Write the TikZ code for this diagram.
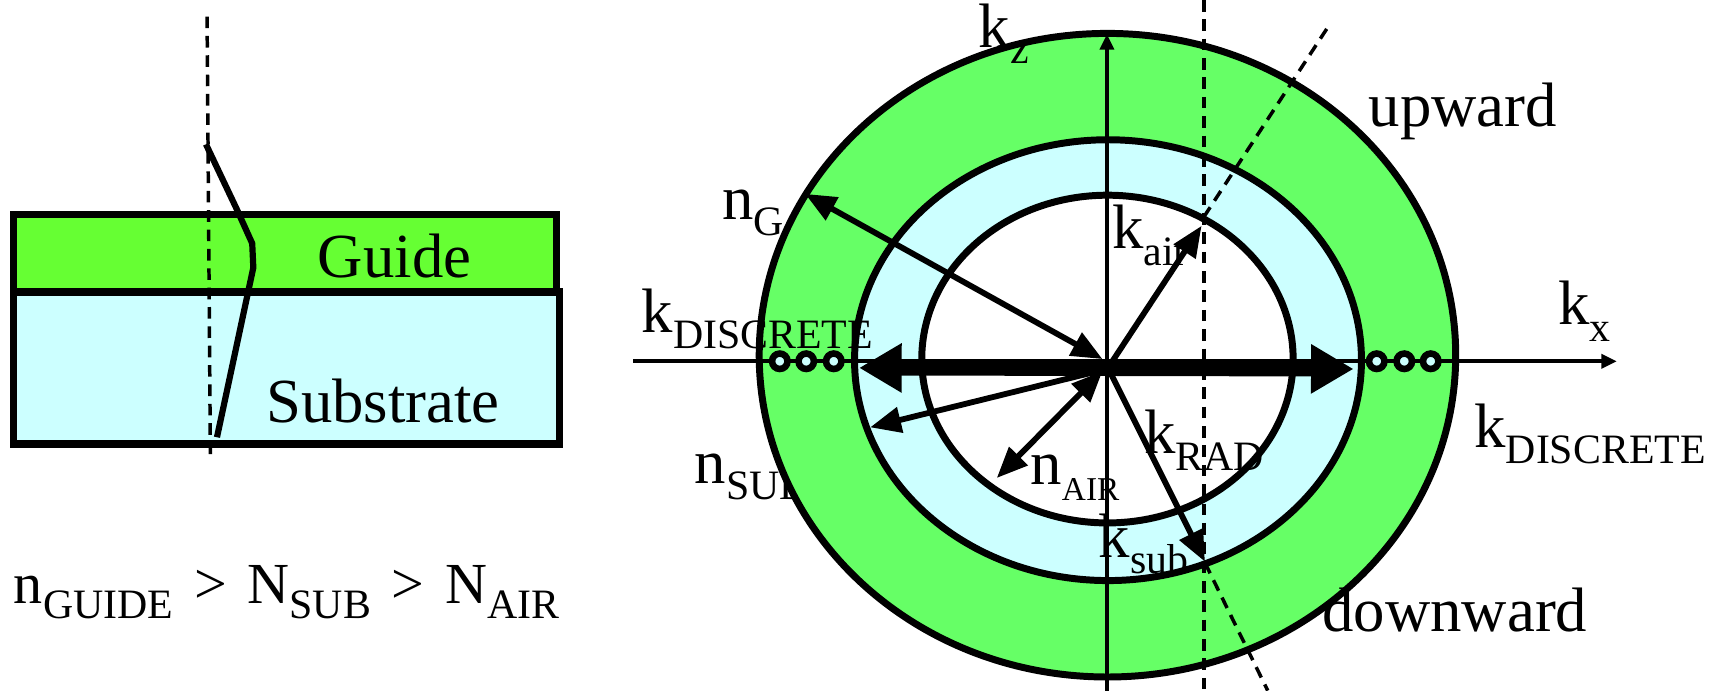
\documentclass[tikz,border=0pt]{standalone}
\usepackage{fontspec}
\setmainfont{Liberation Serif}
\usetikzlibrary{arrows.meta}

\definecolor{guidegreen}{HTML}{66FF33}
\definecolor{ringgreen}{HTML}{66FF66}
\definecolor{subcyan}{HTML}{CCFFFF}

\newcommand{\ksub}[3][10.8]{#2\raisebox{-0.26em}{\fontsize{#1}{12}\selectfont #3}}

\begin{document}
\begin{tikzpicture}[x=0.01cm, y=-0.01cm,
    every node/.style={inner sep=0pt, anchor=base west, font=\fontsize{16.2}{19}\selectfont},
    layer/.style={draw, line width=1.9pt},
    ring/.style={line width=1.8pt},
    axis/.style={line width=0.95pt, -{Triangle[length=4pt, width=3.6pt]}},
    guideline/.style={line width=0.9pt, dash pattern=on 3pt off 2pt},
    vec/.style={line width=1.5pt, -{Triangle[length=8pt, width=6.5pt]}},
    dvec/.style={line width=1.5pt, {Triangle[length=8pt, width=6.5pt]}-{Triangle[length=8pt, width=6.5pt]}},
    bigvec/.style={line width=3.9pt, {Triangle[length=11pt, width=12pt]}-{Triangle[length=11pt, width=12pt]}},
    mode/.style={circle, draw, line width=1.7pt, fill=subcyan, minimum size=0.14cm, anchor=center}]
    \useasboundingbox (0,0) rectangle (1568,627);

    % left: guide on substrate
    \draw[layer, fill=subcyan] (12,265) rectangle (508,403);
    \draw[layer, fill=guidegreen] (12,195) rectangle (505,265);
    \draw[guideline] (188,15) -- (191,413);
    \draw[line width=1.6pt, line join=round] (187,131) -- (215,190) -- (229,221) -- (230,243) -- (197,397);
    \node (guide) at (288,252) {Guide};
    \node (substrate) at (241,384) {Substrate};
    \node (order) at (12,548) {\fontsize{15}{18}\selectfont \ksub{n}{GUIDE}\hspace{0.36em}>\hspace{0.36em}\ksub{N}{SUB}\hspace{0.36em}>\hspace{0.36em}\ksub{N}{AIR}};

    % right: index surfaces
    \node (nsub) at (630,439) {\ksub{n}{SUB}};
    \fill[ringgreen] (1005.5,322.5) ellipse [x radius=3.16cm, y radius=2.92cm];
    \fill[subcyan] (1006,327) ellipse [x radius=2.3cm, y radius=2cm];
    \fill[white] (1005.5,326) ellipse [x radius=1.685cm, y radius=1.487cm];
    \draw[ring] (1005.5,322.5) ellipse [x radius=3.16cm, y radius=2.92cm];
    \draw[ring] (1006,327) ellipse [x radius=2.3cm, y radius=2cm];
    \draw[ring] (1005.5,326) ellipse [x radius=1.685cm, y radius=1.487cm];

    \coordinate (kxstart) at (575,328);
    \coordinate (kxend) at (1468,328);
    \coordinate (kzstart) at (1005,627);
    \coordinate (kzend) at (1005,31);
    \draw[axis] (kxstart) -- (kxend);
    \draw[axis] (kzstart) -- (kzend);

    \coordinate (cutup) at (1093,0);
    \coordinate (cutdown) at (1093,627);
    \coordinate (airhit) at (1093,197);
    \coordinate (subhit) at (1094,511);
    \coordinate (upend) at (1208,21);
    \coordinate (downend) at (1151,627);
    \draw[guideline] (cutup) -- (cutdown);
    \draw[guideline] (airhit) -- (upend);
    \draw[guideline] (subhit) -- (downend);

    \coordinate (gtip) at (731,176);
    \coordinate (gfoot) at (1001,326);
    \coordinate (subtip) at (790,388);
    \coordinate (subfoot) at (1001,336);
    \coordinate (airtip) at (905,434);
    \coordinate (airfoot) at (1001,337);
    \coordinate (kairfoot) at (1006,334);
    \coordinate (kairtip) at (1091,205);
    \coordinate (kradfoot) at (1008,338);
    \coordinate (kradtip) at (1094,510);
    \coordinate (discleft) at (780,334);
    \coordinate (discright) at (1229,335);
    \draw[dvec] (gfoot) -- (gtip);
    \draw[vec] (subfoot) -- (subtip);
    \draw[dvec] (airfoot) -- (airtip);
    \draw[vec] (kairfoot) -- (kairtip);
    \draw[vec] (kradfoot) -- (kradtip);
    \draw[bigvec] (discleft) -- (discright);

    \foreach \x [count=\i] in {708,732,757} \node[mode] (modeL\i) at (\x,328) {};
    \foreach \x [count=\i] in {1250,1275,1299} \node[mode] (modeR\i) at (\x,328) {};

    \node (kz) at (888,43) {\ksub{k}{z}};
    \node (nG) at (655,199) {\ksub{n}{G}};
    \node (kdiscL) at (582,302) {\ksub{k}{DISCRETE}};
    \node (kx) at (1414,295) {\ksub{k}{x}};
    \node (upward) at (1242,115) {upward};
    \node (kair) at (1009,226) {\ksub{k}{air}};
    \node (krad) at (1038,412) {\ksub{k}{RAD}};
    \node (nair) at (935,440) {\ksub[8.6]{n}{AIR}};
    \node (ksubl) at (997,506) {\ksub{k}{sub}};
    \node (kdiscR) at (1338,406) {\ksub{k}{DISCRETE}};
    \node (downward) at (1200,573) {downward};
\end{tikzpicture}
\end{document}
